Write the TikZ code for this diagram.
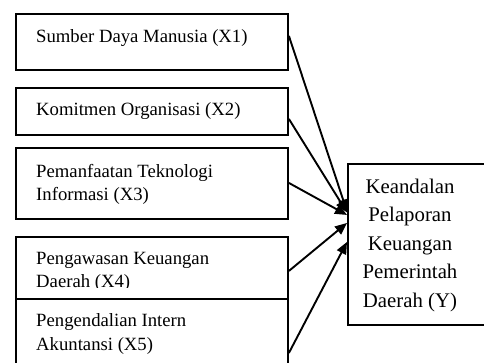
\documentclass[tikz,border=0pt]{standalone}
\usepackage{fontspec}
\setmainfont{Liberation Serif}
\usetikzlibrary{arrows.meta}
\begin{document}
\begin{tikzpicture}[x=1pt,y=-1pt,
  box/.style={draw,line width=1.9pt,minimum width=272pt,anchor=north west,inner sep=0pt,fill=white},
  lbl/.style={anchor=north west,inner sep=0pt,align=left,font=\fontsize{18.7}{23.2}\selectfont},
  ylbl/.style={anchor=north,inner sep=0pt,align=center,font=\fontsize{20.8}{28.5}\selectfont},
  arr/.style={line width=1.9pt,-{Triangle[length=12pt,width=10pt]}}]
\useasboundingbox (0,0) rectangle (484,363);
\clip (0,0) rectangle (484,363);
% left boxes
\node[box,minimum height=56pt] (b1) at (15,13) {};
\node[lbl] (t1) at (36,29.4) {Sumber Daya Manusia (X1)};
\node[box,minimum height=47pt] (b2) at (15,87) {};
\node[lbl] (t2) at (36,102.4) {Komitmen Organisasi (X2)};
\node[box,minimum height=71pt] (b3) at (15,147) {};
\node[lbl] (t3) at (36,164.2) {Pemanfaatan Teknologi\\Informasi (X3)};
\node[box,minimum height=70pt] (b4) at (15,236) {};
\begin{scope}
  \clip (15,236) rectangle (287,287);
  \node[lbl] (t4) at (36,251.6) {Pengawasan Keuangan\\Daerah (X4)};
\end{scope}
\node[box,minimum height=80pt] (b5) at (15,298) {};
\node[lbl] (t5) at (36,313.8) {Pengendalian Intern\\Akuntansi (X5)};
% target box
\node[box,minimum width=150pt,minimum height=161pt] (y) at (347,163) {};
\node[ylbl] (ty) at (410,178.8) {Keandalan\\Pelaporan\\Keuangan\\Pemerintah\\Daerah (Y)};
% arrows
\draw[arr] ([yshift=6pt]b1.east) -- ([yshift=33pt]y.west);
\draw[arr] ([yshift=-7.5pt]b2.east) -- ([yshift=32pt]y.west);
\draw[arr] ([yshift=0.5pt]b3.east) -- ([yshift=29.5pt]y.west);
\draw[arr] ([yshift=1pt]b4.east) -- ([yshift=21.5pt]y.west);
\draw[arr] ([yshift=-14pt]b5.east) -- ([yshift=2.5pt]y.west);
\end{tikzpicture}
\end{document}
